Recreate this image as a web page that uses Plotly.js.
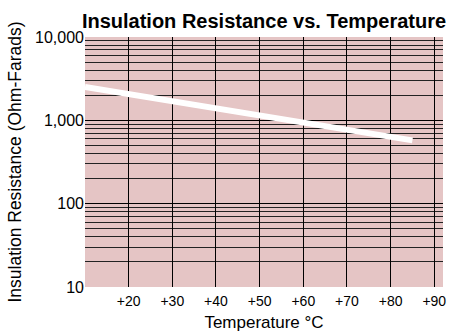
<!DOCTYPE html>
<html>
<head>
<meta charset="utf-8">
<script src="https://cdn.plot.ly/plotly-3.0.1.min.js"></script>
<style>html,body{margin:0;padding:0;background:#fff;}#chart{width:453px;height:335px;}</style>
</head>
<body>
<div id="chart"></div>
<script>
// Data
var temperatures = [10, 85];              // °C
var resistance = [2520, 575];             // Ohm-Farads
var xTickVals = [20, 30, 40, 50, 60, 70, 80, 90];
var xTickText = ['+20', '+30', '+40', '+50', '+60', '+70', '+80', '+90'];
var yTickVals = [10, 100, 1000, 10000];
var yTickText = ['10', '100', '1,000', '10,000'];

// minor log gridlines (2..9 in each decade)
var yMinor = [];
for (var d = 10; d < 10000; d *= 10) {
  for (var k = 2; k <= 9; k++) yMinor.push(k * d);
}

var FONT = 'Liberation Sans, Arial, Helvetica, sans-serif';

var trace = {
  x: temperatures,
  y: resistance,
  type: 'scatter',
  mode: 'lines',
  line: {color: '#ffffff', width: 6},
  hoverinfo: 'skip'
};

var layout = {
  width: 453,
  height: 335,
  margin: {l: 85, r: 10, t: 37, b: 48, pad: 0},
  paper_bgcolor: '#ffffff',
  plot_bgcolor: '#e5c5c5',
  showlegend: false,
  font: {family: FONT, color: '#000000', size: 14},
  title: {
    text: '<b>Insulation Resistance vs. Temperature</b>',
    font: {family: FONT, size: 20, color: '#000000'},
    x: 0.5, xref: 'paper', xanchor: 'center',
    y: 1 - 21 / 335, yref: 'container', yanchor: 'middle'
  },
  xaxis: {
    range: [10, 92],
    tickmode: 'array',
    tickvals: xTickVals,
    ticktext: xTickText,
    showgrid: true,
    gridcolor: '#000000',
    gridwidth: 1,
    zeroline: false,
    showline: false,
    ticks: '',
    ticklabelstandoff: 4,
    tickfont: {family: FONT, size: 14, color: '#000000'},
    title: {text: 'Temperature °C', font: {family: FONT, size: 17, color: '#000000'}, standoff: 8},
    automargin: false,
    fixedrange: true
  },
  yaxis: {
    type: 'log',
    range: [1, 4],
    tickmode: 'array',
    tickvals: yTickVals,
    ticktext: yTickText,
    showgrid: true,
    gridcolor: '#000000',
    gridwidth: 1,
    minor: {tickmode: 'array', tickvals: yMinor, showgrid: true, gridcolor: '#222222', gridwidth: 1, ticks: ''},
    zeroline: false,
    showline: false,
    ticks: '',
    tickfont: {family: FONT, size: 16, color: '#000000'},
    title: {text: 'Insulation Resistance (Ohm-Farads)', font: {family: FONT, size: 17.5, color: '#000000'}, standoff: 8},
    automargin: false,
    fixedrange: true
  }
};

Plotly.newPlot('chart', [trace], layout, {displayModeBar: false, staticPlot: true});
</script>
</body>
</html>
